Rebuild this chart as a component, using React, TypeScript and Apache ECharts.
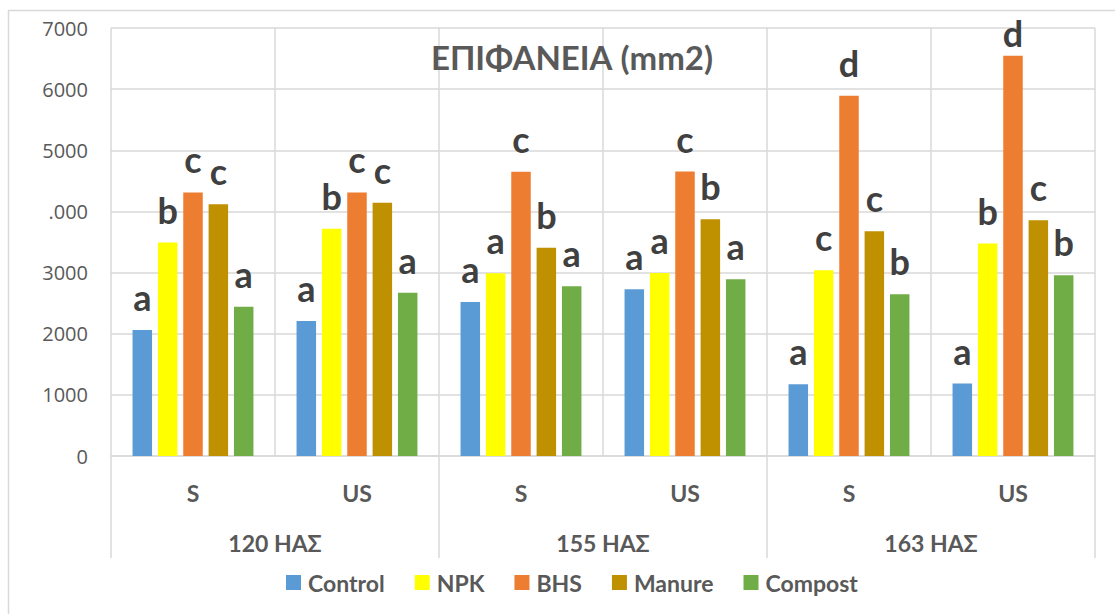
import React, { useEffect, useRef } from "react";
import * as echarts from "echarts";

const subCategories = ["S", "US", "S", "US", "S", "US"];
const groupCategories = ["120 ΗΑΣ", "155 ΗΑΣ", "163 ΗΑΣ"];
const yTickLabels = ["0", "1000", "2000", "3000", ".000", "5000", "6000", "7000"];

const seriesNames = ["Control", "NPK", "BHS", "Manure", "Compost"];
const control = [2062, 2209, 2520, 2728, 1173, 1184];
const npk = [3491, 3715, 2990, 2995, 3039, 3475];
const bhs = [4310, 4310, 4648, 4653, 5892, 6547];
const manure = [4119, 4141, 3404, 3874, 3677, 3857];
const compost = [2439, 2668, 2777, 2892, 2646, 2957];

const controlLetters = ["a", "a", "a", "a", "a", "a"];
const npkLetters = ["b", "b", "a", "a", "c", "b"];
const bhsLetters = ["c", "c", "c", "c", "d", "d"];
const manureLetters = ["c", "c", "b", "b", "c", "c"];
const compostLetters = ["a", "a", "a", "a", "b", "b"];

const colors = ["#5B9BD5", "#FFFF00", "#ED7D31", "#BF9000", "#70AD47"];

const FONT = "Lato, 'Open Sans', sans-serif";
const GRID_COLOR = "#d9d9d9";

export default function App() {
  const ref = useRef<HTMLDivElement>(null);

  useEffect(() => {
    if (!ref.current) return;
    const chart = echarts.init(ref.current, undefined, { renderer: "svg" });
    const values = [control, npk, bhs, manure, compost];
    const letters = [controlLetters, npkLetters, bhsLetters, manureLetters, compostLetters];
    const maxVal = Math.max(...bhs);

    const series = seriesNames.map((name, si) => ({
      name,
      type: "bar",
      xAxisIndex: 0,
      barWidth: 19.5,
      barGap: "30%",
      itemStyle: { color: colors[si] },
      data: values[si].map((v) => {
        const item: any = { value: v };
        if (v === maxVal) item.label = { distance: 5 };
        return item;
      }),
      label: {
        show: true,
        position: "top",
        distance: 15,
        formatter: (p: any) => letters[si][p.dataIndex],
        fontFamily: FONT,
        fontWeight: "bold",
        fontSize: 36,
        color: "#404040",
      },
    }));

    chart.setOption({
      animation: false,
      backgroundColor: "#ffffff",
      title: {
        text: "ΕΠΙΦΑΝΕΙΑ (mm2)",
        left: 567,
        top: 35,
        textAlign: "center",
        textStyle: {
          fontFamily: FONT,
          fontWeight: "bold",
          fontSize: 33,
          color: "#595959",
        },
      },
      graphic: [
        {
          type: "rect",
          shape: { x: 8.5, y: 10.5, width: 1200, height: 700 },
          style: { fill: "none", stroke: GRID_COLOR, lineWidth: 1.5 },
          silent: true,
          z: -1,
        },
      ],
      legend: {
        data: seriesNames,
        left: 281,
        top: 566,
        itemWidth: 15,
        itemHeight: 15,
        itemGap: 30,
        icon: "rect",
        textStyle: {
          fontFamily: FONT,
          fontWeight: "bold",
          fontSize: 23,
          color: "#595959",
          padding: [0, 0, 0, 2],
        },
      },
      grid: { left: 111, right: 20, top: 28, bottom: 158 },
      xAxis: [
        {
          type: "category",
          data: subCategories,
          position: "bottom",
          axisLine: { show: true, lineStyle: { color: GRID_COLOR, width: 1.5 } },
          axisTick: { show: false },
          splitLine: { show: true, lineStyle: { color: GRID_COLOR, width: 1.5 } },
          axisLabel: {
            margin: 25,
            fontFamily: FONT,
            fontWeight: "bold",
            fontSize: 23,
            color: "#595959",
          },
        },
        {
          type: "category",
          data: groupCategories,
          position: "bottom",
          axisLine: { show: false },
          axisTick: { show: true, length: 102, lineStyle: { color: GRID_COLOR, width: 1.5 } },
          splitLine: { show: false },
          axisLabel: {
            margin: 75,
            fontFamily: FONT,
            fontWeight: "bold",
            fontSize: 23,
            color: "#595959",
          },
        },
      ],
      yAxis: {
        type: "value",
        min: 0,
        max: 7000,
        interval: 1000,
        axisLine: { show: false },
        axisTick: { show: false },
        splitLine: { show: true, lineStyle: { color: GRID_COLOR, width: 1.5 } },
        axisLabel: {
          margin: 23,
          fontFamily: "'Open Sans', sans-serif",
          fontSize: 20,
          color: "#595959",
          formatter: (v: number) => yTickLabels[Math.round(v / 1000)] ?? String(v),
        },
      },
      series,
    });

    return () => chart.dispose();
  }, []);

  return (
    <div
      ref={ref}
      style={{ position: "fixed", left: 0, top: 0, width: 1115, height: 614 }}
    />
  );
}
